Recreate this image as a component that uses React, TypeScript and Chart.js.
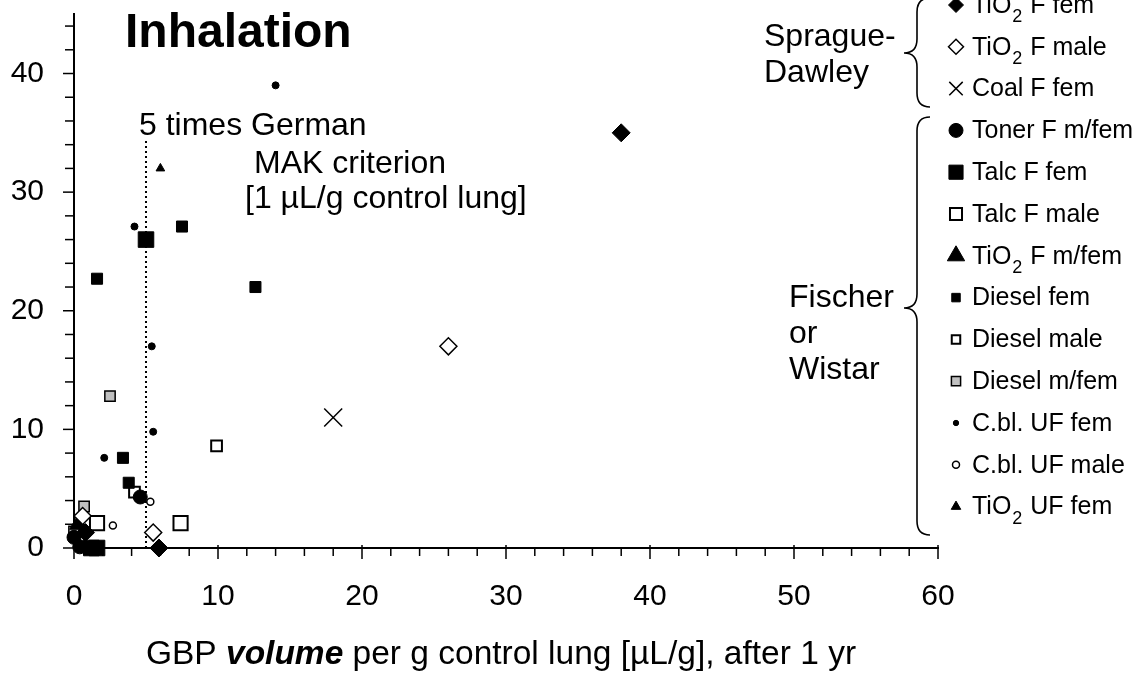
import React, { useEffect, useRef } from 'react';
import { Chart, registerables } from 'chart.js';

Chart.register(...registerables);

// ---- data ----
const tio2FFemX = [38.0, 5.9, 0.8];
const tio2FFemY = [35.0, 0.0, 1.3];
const tio2FMaleX = [26.0, 5.5, 0.6];
const tio2FMaleY = [17.0, 1.3, 2.7];
const coalFFemX = [18.0];
const coalFFemY = [11.0];
const tonerX = [4.6, 0.0, 0.4];
const tonerY = [4.3, 0.9, 0.1];
const talcFFemX = [5.0, 1.2, 1.6];
const talcFFemY = [26.0, 0.0, 0.0];
const talcFMaleX = [7.4, 1.6];
const talcFMaleY = [2.1, 2.1];
const tio2FMfemX = [0.3];
const tio2FMfemY = [2.0];
const dieselFemX = [7.5, 12.6, 1.6, 3.4, 3.8];
const dieselFemY = [27.1, 22.0, 22.7, 7.6, 5.5];
const dieselMaleX = [9.9, 4.2];
const dieselMaleY = [8.6, 4.7];
const dieselMfemX = [2.5, 0.7, 0.0];
const dieselMfemY = [12.8, 3.5, 1.4];
const cblFemX = [14.0, 4.2, 5.4, 5.5, 2.1];
const cblFemY = [39.0, 27.1, 17.0, 9.8, 7.6];
const cblMaleX = [5.3, 2.7];
const cblMaleY = [3.9, 1.9];
const tio2UfFemX = [6.0];
const tio2UfFemY = [32.0];

const makLineX = [5, 5];
const makLineY = [0, 34.5];

const xMin = 0, xMax = 60, xStep = 2;
const yMin = 0, yMax = 45, yStep = 2;

// legend labels: [prefix, subscript, suffix]
const legendLabels: [string, string, string][] = [
  ['TiO', '2', ' F fem'],
  ['TiO', '2', ' F male'],
  ['Coal F fem', '', ''],
  ['Toner F m/fem', '', ''],
  ['Talc F fem', '', ''],
  ['Talc F male', '', ''],
  ['TiO', '2', ' F m/fem'],
  ['Diesel fem', '', ''],
  ['Diesel male', '', ''],
  ['Diesel m/fem', '', ''],
  ['C.bl. UF fem', '', ''],
  ['C.bl. UF male', '', ''],
  ['TiO', '2', ' UF fem'],
];

const FONT = '"Liberation Sans", Arial, sans-serif';

type Sty = { ps: string; r: number; lr: number; bg: string; bc: string; bw: number };
const styles: Sty[] = [
  { ps: 'rectRot', r: 9, lr: 7.5, bg: '#000', bc: '#000', bw: 1 },
  { ps: 'rectRot', r: 8.5, lr: 7.5, bg: '#fff', bc: '#000', bw: 1.5 },
  { ps: 'crossRot', r: 12.7, lr: 9.5, bg: '#000', bc: '#000', bw: 1.5 },
  { ps: 'circle', r: 7, lr: 7, bg: '#000', bc: '#000', bw: 1 },
  { ps: 'rect', r: 11, lr: 10, bg: '#000', bc: '#000', bw: 1 },
  { ps: 'rect', r: 10, lr: 8.5, bg: '#fff', bc: '#000', bw: 2 },
  { ps: 'triangle', r: 10, lr: 10, bg: '#000', bc: '#000', bw: 1 },
  { ps: 'rect', r: 7.8, lr: 6, bg: '#000', bc: '#000', bw: 1 },
  { ps: 'rect', r: 7.6, lr: 6, bg: '#fff', bc: '#000', bw: 2 },
  { ps: 'rect', r: 7.3, lr: 6.5, bg: '#c0c0c0', bc: '#000', bw: 1.5 },
  { ps: 'circle', r: 3.5, lr: 2.7, bg: '#000', bc: '#000', bw: 1 },
  { ps: 'circle', r: 3.5, lr: 3.5, bg: '#fff', bc: '#000', bw: 1.5 },
  { ps: 'triangle', r: 5, lr: 5.5, bg: '#000', bc: '#000', bw: 1 },
];

const seriesX = [tio2FFemX, tio2FMaleX, coalFFemX, tonerX, talcFFemX, talcFMaleX, tio2FMfemX,
  dieselFemX, dieselMaleX, dieselMfemX, cblFemX, cblMaleX, tio2UfFemX];
const seriesY = [tio2FFemY, tio2FMaleY, coalFFemY, tonerY, talcFFemY, talcFMaleY, tio2FMfemY,
  dieselFemY, dieselMaleY, dieselMfemY, cblFemY, cblMaleY, tio2UfFemY];

function drawMarker(ctx: CanvasRenderingContext2D, s: Sty, x: number, y: number, r: number) {
  ctx.save();
  ctx.beginPath();
  ctx.lineWidth = s.bw;
  ctx.strokeStyle = s.bc;
  ctx.fillStyle = s.bg;
  const c = Math.SQRT1_2 * r;
  switch (s.ps) {
    case 'circle':
      ctx.arc(x, y, r, 0, Math.PI * 2);
      break;
    case 'rect':
      ctx.rect(x - c, y - c, 2 * c, 2 * c);
      break;
    case 'rectRot':
      ctx.moveTo(x - r, y); ctx.lineTo(x, y - r); ctx.lineTo(x + r, y); ctx.lineTo(x, y + r); ctx.closePath();
      break;
    case 'triangle': {
      let a = 0;
      ctx.moveTo(x + Math.sin(a) * r, y - Math.cos(a) * r);
      a += (2 * Math.PI) / 3;
      ctx.lineTo(x + Math.sin(a) * r, y - Math.cos(a) * r);
      a += (2 * Math.PI) / 3;
      ctx.lineTo(x + Math.sin(a) * r, y - Math.cos(a) * r);
      ctx.closePath();
      break;
    }
    case 'crossRot':
      ctx.moveTo(x - c, y - c); ctx.lineTo(x + c, y + c);
      ctx.moveTo(x + c, y - c); ctx.lineTo(x - c, y + c);
      ctx.stroke();
      ctx.restore();
      return;
  }
  ctx.fill();
  ctx.stroke();
  ctx.restore();
}

function drawBrace(ctx: CanvasRenderingContext2D, xEnd: number, xv: number, xTip: number, top: number, tip: number, bottom: number) {
  const r = 14;
  ctx.save();
  ctx.strokeStyle = '#000';
  ctx.lineWidth = 1.6;
  ctx.beginPath();
  ctx.moveTo(xEnd, top);
  ctx.quadraticCurveTo(xv, top, xv, top + r);
  ctx.lineTo(xv, tip - r);
  ctx.quadraticCurveTo(xv, tip, xTip, tip);
  ctx.quadraticCurveTo(xv, tip, xv, tip + r);
  ctx.lineTo(xv, bottom - r);
  ctx.quadraticCurveTo(xv, bottom, xEnd, bottom);
  ctx.stroke();
  ctx.restore();
}

const decorPlugin = {
  id: 'decor',
  afterDraw(chart: any) {
    const ctx: CanvasRenderingContext2D = chart.ctx;
    const xs = chart.scales.x;
    const ys = chart.scales.y;
    ctx.save();
    ctx.strokeStyle = '#000';
    ctx.lineWidth = 1.5;
    // x ticks
    const xAxisY = ys.getPixelForValue(yMin);
    for (let v = xMin; v <= xMax; v += xStep) {
      const px = xs.getPixelForValue(v);
      const major = v % 10 === 0;
      ctx.beginPath();
      ctx.moveTo(px, xAxisY - (major ? 3 : 0));
      ctx.lineTo(px, xAxisY + (major ? 11 : 8));
      ctx.stroke();
    }
    // y ticks
    const yAxisX = xs.getPixelForValue(xMin);
    for (let v = yMin; v <= 44; v += yStep) {
      const py = ys.getPixelForValue(v);
      const major = v % 10 === 0;
      ctx.beginPath();
      ctx.moveTo(yAxisX - (major ? 11 : 9), py);
      ctx.lineTo(yAxisX + 1, py);
      ctx.stroke();
    }
    ctx.restore();

    ctx.save();
    ctx.fillStyle = '#000';
    ctx.textBaseline = 'alphabetic';
    ctx.textAlign = 'left';
    // title
    ctx.font = `bold 48px ${FONT}`;
    ctx.fillText('Inhalation', 125, 47);
    // MAK annotation
    ctx.font = `32px ${FONT}`;
    ctx.fillText('5 times German', 139, 135);
    ctx.fillText('MAK criterion', 254, 173);
    ctx.fillText('[1 \u00b5L/g control lung]', 245, 208);
    // strains
    ctx.fillText('Sprague-', 764, 46);
    ctx.fillText('Dawley', 764, 82);
    ctx.fillText('Fischer', 789, 307);
    ctx.fillText('or', 789, 343);
    ctx.fillText('Wistar', 789, 379);
    drawBrace(ctx, 930, 917, 904, -2, 53, 107);
    drawBrace(ctx, 930, 917, 904, 117, 308, 535);

    // legend
    const rowY0 = 5;
    const rowDy = 41.8;
    legendLabels.forEach((lab, i) => {
      const y = rowY0 + i * rowDy;
      drawMarker(ctx, styles[i], 956, y, styles[i].lr);
      ctx.fillStyle = '#000';
      ctx.textBaseline = 'middle';
      ctx.font = `25px ${FONT}`;
      let x = 972;
      ctx.fillText(lab[0], x, y + 1);
      x += ctx.measureText(lab[0]).width;
      if (lab[1]) {
        ctx.font = `18px ${FONT}`;
        ctx.fillText(lab[1], x + 1, y + 12);
        x += ctx.measureText(lab[1]).width + 2;
        ctx.font = `25px ${FONT}`;
        ctx.fillText(lab[2], x, y + 1);
      }
    });

    // x axis title with mixed fonts
    ctx.textBaseline = 'alphabetic';
    const p1 = 'GBP ';
    const p2 = 'volume';
    const p3 = ' per g control lung [\u00b5L/g], after 1 yr';
    const fs = 33.5;
    ctx.font = `${fs}px ${FONT}`;
    const w1 = ctx.measureText(p1).width;
    const w3 = ctx.measureText(p3).width;
    ctx.font = `italic bold ${fs}px ${FONT}`;
    const w2 = ctx.measureText(p2).width;
    let tx = 501 - (w1 + w2 + w3) / 2;
    ctx.font = `${fs}px ${FONT}`;
    ctx.fillText(p1, tx, 664);
    tx += w1;
    ctx.font = `italic bold ${fs}px ${FONT}`;
    ctx.fillText(p2, tx, 664);
    tx += w2;
    ctx.font = `${fs}px ${FONT}`;
    ctx.fillText(p3, tx, 664);
    ctx.restore();
  },
};

export default function App() {
  const ref = useRef<HTMLCanvasElement>(null);
  useEffect(() => {
    const datasets: any[] = [
      {
        type: 'line',
        label: 'MAK',
        data: makLineX.map((x, i) => ({ x, y: makLineY[i] })),
        borderColor: '#000',
        borderWidth: 2,
        borderDash: [2, 3],
        pointRadius: 0,
        fill: false,
        order: 20,
        clip: false,
      },
    ];
    legendLabels.forEach((lab, i) => {
      const s = styles[i];
      datasets.push({
        label: lab.join(''),
        data: seriesX[i].map((x, j) => ({ x, y: seriesY[i][j] })),
        pointStyle: s.ps,
        pointRadius: s.r,
        pointHoverRadius: s.r,
        backgroundColor: s.bg,
        borderColor: s.bc,
        borderWidth: s.bw,
        showLine: false,
        clip: false,
        order: i,
      });
    });
    const chart = new Chart(ref.current!, {
      type: 'scatter',
      data: { datasets },
      options: {
        animation: false,
        responsive: false,
        devicePixelRatio: 1,
        layout: { padding: { top: 13, right: 209, left: 0, bottom: 0 } },
        plugins: { legend: { display: false }, tooltip: { enabled: false }, title: { display: false } },
        scales: {
          x: {
            type: 'linear',
            min: xMin,
            max: xMax,
            afterFit: (s: any) => { s.height = 129; s.paddingLeft = 0; s.paddingRight = 0; },
            grid: { display: false, drawTicks: false },
            border: { display: true, color: '#000', width: 2 },
            ticks: {
              stepSize: xStep,
              autoSkip: false,
              maxRotation: 0,
              minRotation: 0,
              includeBounds: false,
              padding: 31,
              color: '#000',
              font: { family: FONT, size: 30 },
              callback: (v: any) => (Number(v) % 10 === 0 ? String(v) : ''),
            },
          },
          y: {
            type: 'linear',
            min: yMin,
            max: yMax,
            afterFit: (s: any) => { s.width = 74; s.paddingTop = 0; s.paddingBottom = 0; },
            grid: { display: false, drawTicks: false },
            border: { display: true, color: '#000', width: 2 },
            ticks: {
              stepSize: yStep,
              autoSkip: false,
              includeBounds: false,
              padding: 30,
              color: '#000',
              font: { family: FONT, size: 30 },
              callback: (v: any) => (Number(v) % 10 === 0 && Number(v) <= 40 ? String(v) : ''),
            },
          },
        },
      } as any,
      plugins: [decorPlugin],
    });
    return () => chart.destroy();
  }, []);
  return (
    <div style={{ position: 'fixed', left: 0, top: 0, width: 1147, height: 677, background: '#fff' }}>
      <canvas ref={ref} width={1147} height={677} style={{ display: 'block', width: 1147, height: 677 }} />
    </div>
  );
}
